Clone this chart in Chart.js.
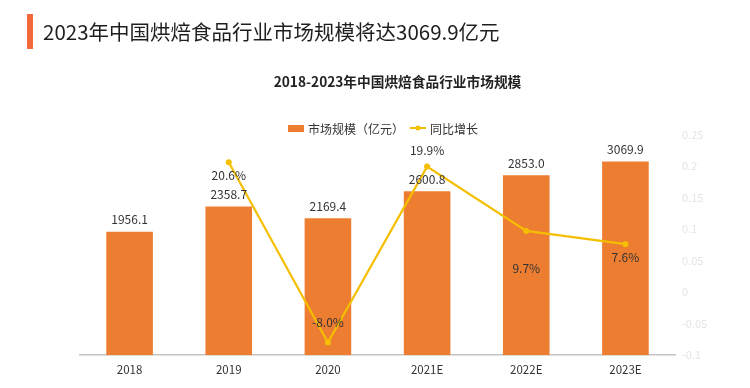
<!DOCTYPE html>
<html><head><meta charset="utf-8">
<script src="https://cdn.jsdelivr.net/npm/chart.js@4/dist/chart.umd.min.js"></script>
<style>
html,body{margin:0;padding:0;background:#fff;}
#wrap{position:absolute;left:0;top:0;width:750px;height:388px;}
#head{position:absolute;left:27px;top:14px;height:35px;border-left:6px solid #F2683A;padding-left:10px;
 font-family:"Noto Sans CJK SC","Noto Sans",sans-serif;font-size:20.5px;line-height:35px;color:#1e1e1e;white-space:nowrap;}
#legend{position:absolute;left:288px;top:120px;height:16px;display:flex;align-items:center;
 font-family:"Noto Sans CJK SC","Noto Sans",sans-serif;font-size:12px;color:#333;white-space:nowrap;}
#legend .it{display:flex;align-items:center;margin-right:6px;}
#legend canvas{margin-right:4px;}
</style></head>
<body>
<div id="wrap"><canvas id="c" width="750" height="388"></canvas></div>
<div id="head">2023年中国烘焙食品行业市场规模将达3069.9亿元</div>
<div id="legend"></div>
<script>
const categories = ['2018','2019','2020','2021E','2022E','2023E'];
const marketSize = [1956.1, 2358.7, 2169.4, 2600.8, 2853.0, 3069.9];
const growth = [null, 0.206, -0.080, 0.199, 0.097, 0.076];
const growthTicks = [-0.1, -0.05, 0, 0.05, 0.1, 0.15, 0.2, 0.25];
const seriesNames = ['市场规模（亿元）', '同比增长'];

const lineLabelOffset = [0, 13, -20, -16, 37, 13];
const FONT = '"Noto Sans CJK SC","Noto Sans",sans-serif';
const ORANGE = '#ED7D31', GOLD = '#F5BE00';

function legendIcon(type){
  const c = document.createElement('canvas'); c.width = 16; c.height = 8;
  const g = c.getContext('2d');
  if(type==='bar'){ g.fillStyle = ORANGE; g.fillRect(0,1,16,7); }
  else { g.strokeStyle = GOLD; g.lineWidth = 2; g.beginPath(); g.moveTo(0,4); g.lineTo(16,4); g.stroke();
    g.fillStyle = GOLD; g.beginPath(); g.arc(8,4,2.5,0,Math.PI*2); g.fill(); }
  return c;
}
// HTML legend
const lg = document.getElementById('legend');
['bar','line'].forEach((t,i)=>{
  const it = document.createElement('div'); it.className='it';
  it.appendChild(legendIcon(t));
  const sp = document.createElement('span'); sp.textContent = seriesNames[i]; it.appendChild(sp);
  lg.appendChild(it);
});

const labelsPlugin = {
  id:'valueLabels',
  afterDatasetsDraw(chart){
    const ctx = chart.ctx; ctx.save();
    ctx.font = '12px ' + FONT; ctx.fillStyle = '#333'; ctx.textAlign = 'center'; ctx.textBaseline = 'middle';
    chart.getDatasetMeta(0).data.forEach((el,i)=>{
      ctx.fillText(marketSize[i].toFixed(1), el.x, el.y - 12);
    });
    chart.getDatasetMeta(1).data.forEach((el,i)=>{
      if(growth[i]===null) return;
      ctx.fillText((growth[i]*100).toFixed(1)+'%', el.x, el.y + lineLabelOffset[i]);
    });
    ctx.restore();
  }
};

new Chart(document.getElementById('c'), {
  data:{
    labels: categories,
    datasets:[
      {type:'bar', label:seriesNames[0], data:marketSize, yAxisID:'y', backgroundColor:ORANGE,
       barPercentage:0.47, categoryPercentage:1, order:1},
      {type:'line', label:seriesNames[1], data:growth, yAxisID:'y1', borderColor:GOLD, backgroundColor:GOLD,
       borderWidth:2.2, pointRadius:3, pointBackgroundColor:GOLD, pointBorderWidth:0, tension:0, order:0}
    ]
  },
  options:{
    responsive:false, animation:false,
    layout:{padding:{top:74,left:80,right:35,bottom:3}},
    plugins:{
      title:{display:true, text:'2018-2023年中国烘焙食品行业市场规模', color:'#222',
        font:{family:FONT,size:13.7,weight:'bold'}, padding:{top:0,bottom:44}},
      legend:{display:false},
      tooltip:{enabled:false}
    },
    scales:{
      x:{grid:{display:false, drawTicks:false}, border:{display:true,color:'#c4c4c4',width:1.5},
         ticks:{color:'#333', font:{family:FONT,size:11.5}, padding:8}},
      y:{display:false, min:0, max:3500},
      y1:{position:'right', clip:false, min:growthTicks[0], max:growthTicks[growthTicks.length-1],
         grid:{display:false, drawTicks:false}, border:{display:false},
         afterBuildTicks(ax){ ax.ticks = growthTicks.map(v=>({value:v})); },
         afterFit(ax){ ax.width = 40; },
         ticks:{color:'#e4e4e4', font:{family:FONT,size:11}, padding:7,
           callback:v=>String(parseFloat(v.toFixed(2)))}}
    }
  },
  plugins:[labelsPlugin]
});
</script>
</body></html>
